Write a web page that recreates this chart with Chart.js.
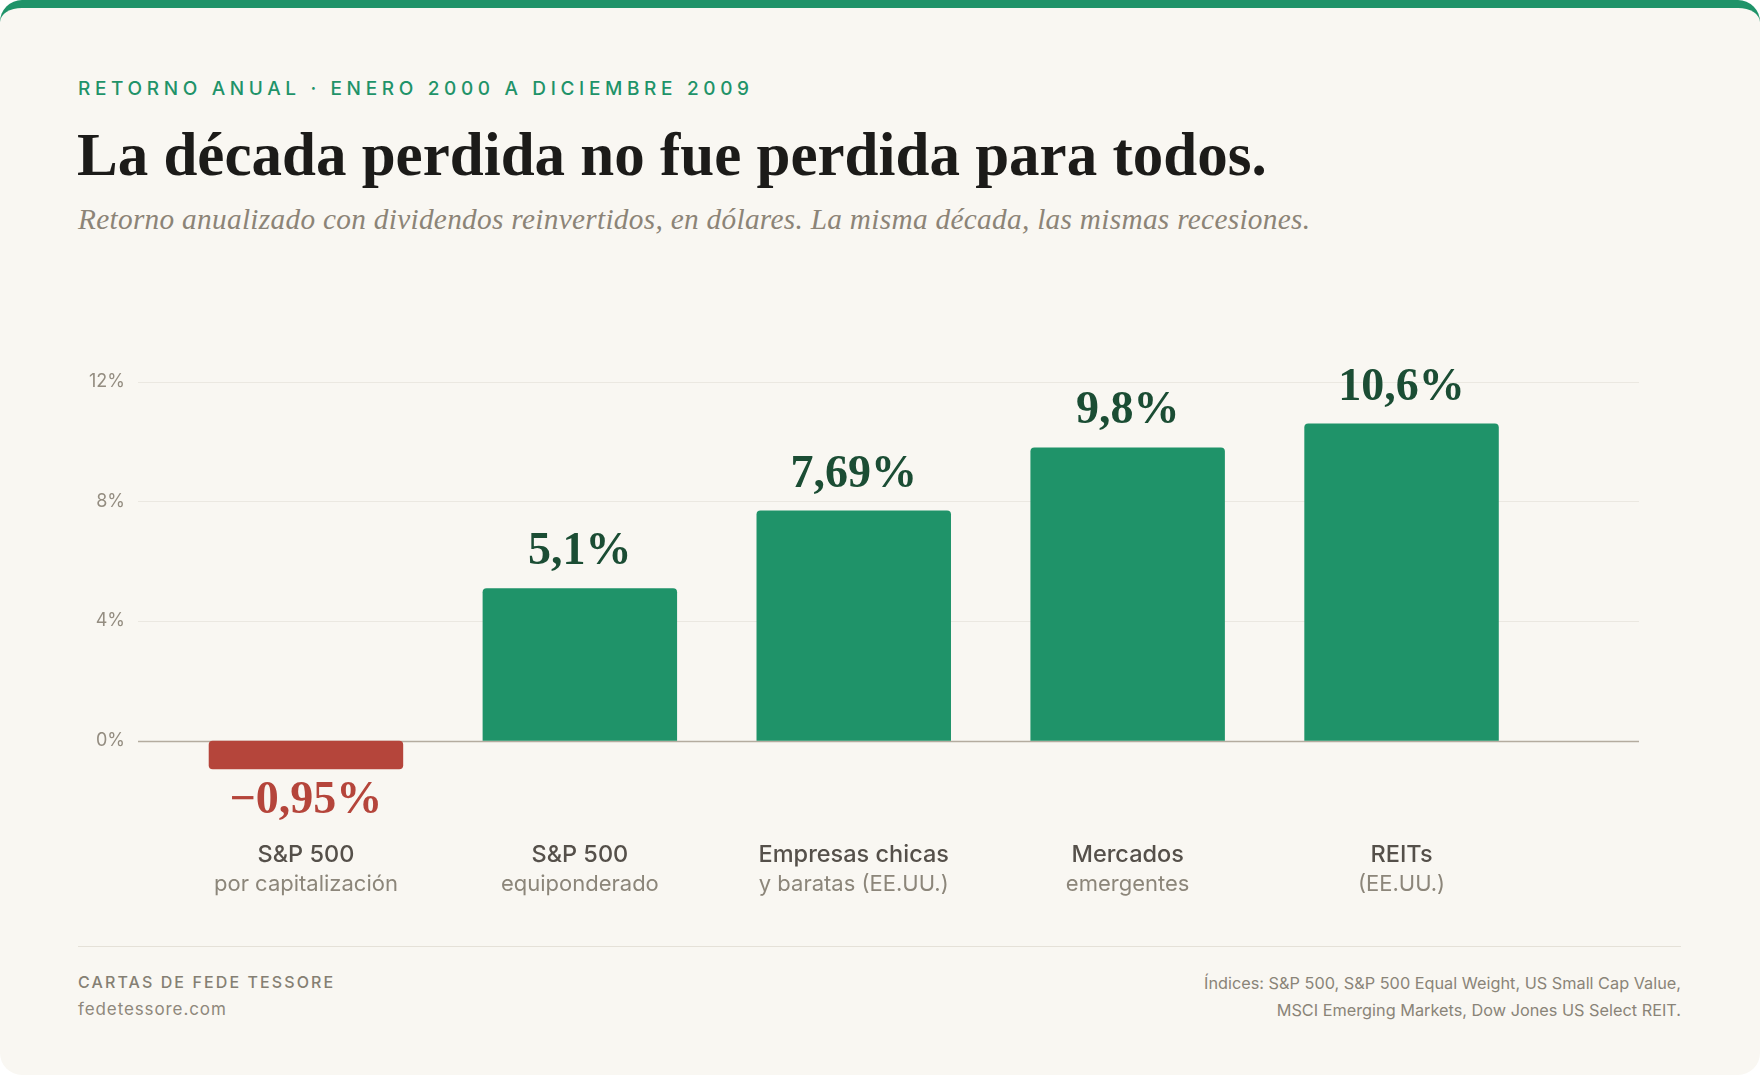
<!DOCTYPE html>
<html lang="es">
<head>
<meta charset="utf-8">
<title>La década perdida no fue perdida para todos.</title>
<script src="https://cdn.jsdelivr.net/npm/chart.js@4.4.1/dist/chart.umd.min.js"></script>
<style>
  html, body { margin: 0; padding: 0; background: #ffffff; }
  body { width: 1760px; height: 1075px; position: relative; overflow: hidden; }
  .card {
    position: absolute; left: 0; top: 0; width: 1760px; height: 1075px;
    box-sizing: border-box; background: #f9f7f2; border-radius: 22px;
    border-top: 8px solid #1f9369; overflow: hidden;
  }
  .t { position: absolute; white-space: nowrap; line-height: 1; margin: 0; }
  .kicker { left: 78px; top: 69px; font: 500 19px Inter, sans-serif; letter-spacing: 4.65px; color: #1f9369; }
  .title { left: 77px; top: 112px; font: 700 61px "Liberation Serif", serif; color: #1c1b19; }
  .subtitle { left: 78px; top: 195px; font: italic 400 29.3px "Liberation Serif", serif; color: #8c8477; letter-spacing: 0.3px; }
  .chartbox { position: absolute; left: 0; top: 244px; width: 1760px; height: 660px; }
  .rule { position: absolute; left: 78px; top: 938px; width: 1603px; height: 1px; background: #e5e1d8; }
  .brand { left: 78px; top: 964px; font: 500 16px Inter, sans-serif; letter-spacing: 2.1px; color: #857f73; }
  .site { left: 78px; top: 991px; font: 400 17px Inter, sans-serif; letter-spacing: 0.9px; color: #8f887c; }
  .src { right: 79px; top: 962px; font: 400 16.3px Inter, sans-serif; color: #8a8478; text-align: right; line-height: 27px; }
</style>
</head>
<body>
<div class="card">
  <div class="t kicker">RETORNO ANUAL · ENERO 2000 A DICIEMBRE 2009</div>
  <h1 class="t title">La década perdida no fue perdida para todos.</h1>
  <div class="t subtitle">Retorno anualizado con dividendos reinvertidos, en dólares. La misma década, las mismas recesiones.</div>
  <div class="chartbox"><canvas id="c"></canvas></div>
  <div class="rule"></div>
  <div class="t brand">CARTAS DE FEDE TESSORE</div>
  <div class="t site">fedetessore.com</div>
  <div class="t src">Índices: S&amp;P 500, S&amp;P 500 Equal Weight, US Small Cap Value,<br>MSCI Emerging Markets, Dow Jones US Select REIT.</div>
</div>
<script>
// ---- data ----
const categoryTitles = ['S&P 500', 'S&P 500', 'Empresas chicas', 'Mercados', 'REITs'];
const categorySubtitles = ['por capitalización', 'equiponderado', 'y baratas (EE.UU.)', 'emergentes', '(EE.UU.)'];
const annualReturns = [-0.95, 5.1, 7.69, 9.8, 10.6];
const valueLabels = ['−0,95%', '5,1%', '7,69%', '9,8%', '10,6%'];
const yTickValues = [0, 4, 8, 12];
const yTickLabels = ['0%', '4%', '8%', '12%'];

const GREEN = '#1f9369', RED = '#b5453b', DARK_GREEN = '#1b4d34';

const gridPlugin = {
  id: 'gridExt',
  beforeDatasetsDraw(chart) {
    const { ctx, chartArea } = chart;
    const y = chart.scales.y;
    const x0 = chartArea.left - 31, x1 = chartArea.right + 100.5;
    ctx.save();
    yTickValues.forEach(v => {
      const py = Math.round(y.getPixelForValue(v)) + 0.5;
      ctx.beginPath();
      ctx.strokeStyle = v === 0 ? '#b4ac9f' : '#ebe8e1';
      ctx.lineWidth = v === 0 ? 1.6 : 1.2;
      ctx.moveTo(x0, py); ctx.lineTo(x1, py); ctx.stroke();
    });
    ctx.restore();
  }
};

const labelPlugin = {
  id: 'labels',
  afterDatasetsDraw(chart) {
    const { ctx } = chart;
    const meta = chart.getDatasetMeta(0);
    const yScale = chart.scales.y;
    ctx.save();
    ctx.textAlign = 'center';
    meta.data.forEach((bar, i) => {
      const v = annualReturns[i];
      ctx.font = '700 46px "Liberation Serif", serif';
      ctx.textBaseline = 'alphabetic';
      if (v >= 0) {
        ctx.fillStyle = DARK_GREEN;
        ctx.fillText(valueLabels[i], bar.x, bar.y - 24);
      } else {
        ctx.fillStyle = RED;
        ctx.fillText(valueLabels[i], bar.x, bar.y + 44);
      }
      // category labels
      const base = yScale.getPixelForValue(0);
      ctx.textBaseline = 'middle';
      ctx.font = '500 23.5px Inter, sans-serif';
      ctx.fillStyle = '#55504a';
      ctx.fillText(categoryTitles[i], bar.x, base + 114);
      ctx.font = '400 22px Inter, sans-serif';
      ctx.fillStyle = '#8c867a';
      ctx.fillText(categorySubtitles[i], bar.x, base + 144);
    });
    ctx.restore();
  }
};

new Chart(document.getElementById('c'), {
  type: 'bar',
  data: {
    labels: categoryTitles,
    datasets: [{
      data: annualReturns,
      backgroundColor: annualReturns.map(v => v < 0 ? RED : GREEN),
      borderRadius: 4,
      borderSkipped: ctx => (annualReturns[ctx.dataIndex] < 0 ? false : 'start'),
      barPercentage: 0.71,
      categoryPercentage: 1.0
    }]
  },
  options: {
    responsive: true,
    maintainAspectRatio: false,
    animation: false,
    devicePixelRatio: window.devicePixelRatio || 1,
    layout: { padding: { top: 99.7, bottom: 141.3, left: 0, right: 221.5 } },
    plugins: { legend: { display: false }, tooltip: { enabled: false } },
    scales: {
      x: { display: false },
      y: {
        min: -1, max: 13,
        grid: { display: false, drawTicks: false },
        border: { display: false },
        afterBuildTicks: axis => { axis.ticks = yTickValues.map(v => ({ value: v })); },
        afterFit: scale => { scale.width = 169; },
        ticks: {
          padding: 44,
          color: '#948d81',
          font: { family: 'Inter', size: 18, weight: '400' },
          callback: (v) => yTickLabels[yTickValues.indexOf(v)]
        }
      }
    }
  },
  plugins: [gridPlugin, labelPlugin]
});
</script>
</body>
</html>
